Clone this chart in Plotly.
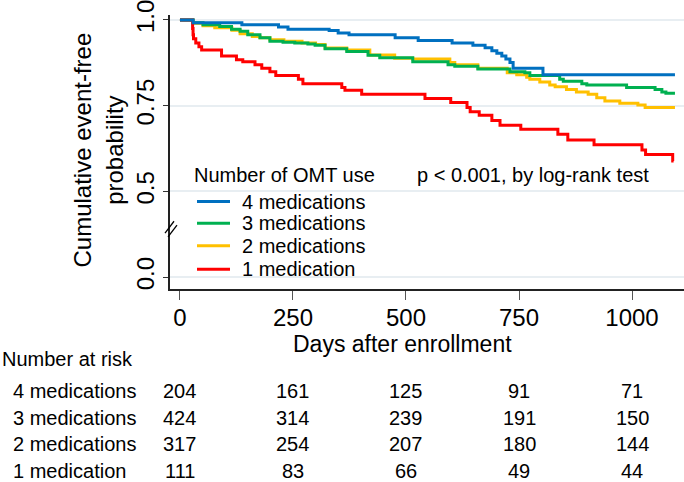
import plotly.graph_objects as go

# ---- Kaplan-Meier step data (days, survival) ----
days_4 = [0, 29, 137, 218, 239, 330, 350, 374, 476, 527, 602, 648, 675, 690, 701, 712, 721, 730, 737, 803, 1095]
surv_4 = [1.0, 0.992, 0.986, 0.979, 0.973, 0.969, 0.962, 0.957, 0.948, 0.940, 0.933, 0.926, 0.919, 0.910, 0.903,
          0.895, 0.886, 0.876, 0.859, 0.840, 0.840]

days_3 = [0, 29, 51, 88, 114, 133, 150, 177, 199, 228, 254, 283, 299, 321, 369, 416, 442, 515, 593, 608,
          659, 730, 763, 774, 840, 848, 889, 900, 988, 1051, 1066, 1075, 1095]
surv_3 = [1.0, 0.992, 0.986, 0.981, 0.973, 0.967, 0.957, 0.948, 0.938, 0.935, 0.933, 0.930, 0.926, 0.916, 0.908,
          0.897, 0.890, 0.878, 0.869, 0.865, 0.857, 0.849, 0.846, 0.838, 0.827, 0.821, 0.814, 0.810, 0.803,
          0.797, 0.790, 0.786, 0.786]

days_2 = [0, 29, 51, 77, 115, 133, 160, 177, 199, 230, 270, 300, 321, 369, 420, 475, 515, 597, 608, 659,
          724, 745, 767, 774, 796, 818, 830, 855, 877, 903, 922, 940, 973, 1013, 1029, 1095]
surv_2 = [1.0, 0.990, 0.983, 0.977, 0.970, 0.960, 0.952, 0.948, 0.942, 0.938, 0.933, 0.928, 0.918, 0.912, 0.898,
          0.888, 0.886, 0.876, 0.869, 0.859, 0.846, 0.840, 0.833, 0.827, 0.819, 0.810, 0.805, 0.797, 0.790,
          0.783, 0.773, 0.764, 0.757, 0.752, 0.745, 0.745]

days_1 = [0, 28, 29, 30, 35, 42, 48, 92, 125, 139, 166, 181, 199, 212, 262, 272, 358, 365, 402, 542,
          599, 635, 642, 662, 690, 708, 754, 836, 858, 916, 1022, 1030, 1090, 1092]
surv_1 = [1.0, 0.975, 0.957, 0.945, 0.933, 0.922, 0.912, 0.895, 0.884, 0.878, 0.869, 0.859, 0.849, 0.838, 0.827,
          0.814, 0.803, 0.795, 0.783, 0.771, 0.759, 0.745, 0.732, 0.722, 0.707, 0.693, 0.681, 0.667, 0.650,
          0.636, 0.621, 0.608, 0.589, 0.589]

group_names = ["4 medications", "3 medications", "2 medications", "1 medication"]
group_colors = ["#0070C0", "#00B050", "#FFC000", "#FF0000"]
legend_title = "Number of OMT use"

# ---- Number at risk table ----
risk_days = [0, 250, 500, 750, 1000]
risk_4 = [204, 161, 125, 91, 71]
risk_3 = [424, 314, 239, 191, 150]
risk_2 = [317, 254, 207, 180, 144]
risk_1 = [111, 83, 66, 49, 44]

# ---- Axis ticks (broken axis: "0.0" drawn at a compressed position) ----
x_ticks = [0, 250, 500, 750, 1000]
y_tickvals = [0.25, 0.5, 0.75, 1.0]
y_ticktext = ["0.0", "0.5", "0.75", "1.0"]

FONT = "Liberation Sans, Arial, Helvetica, sans-serif"

fig = go.Figure()

series = [
    (days_2, surv_2, 2),
    (days_3, surv_3, 1),
    (days_1, surv_1, 3),
    (days_4, surv_4, 0),
]
for d, s, gi in series:
    fig.add_trace(go.Scatter(
        x=d, y=s, mode="lines", line=dict(shape="hv", color=group_colors[gi], width=3),
        name=group_names[gi], showlegend=False,
    ))

W, H = 684, 482
ML, MR, MT, MB = 170, 0, 10, 193
PW = W - ML - MR
PH = H - MT - MB


def px_to_paper_x(px):
    return (px - ML) / PW


def px_to_paper_y(py):
    return (H - MB - py) / PH


annotations = []
shapes = []

# legend background box (covers gridlines, like the reference)
shapes.append(dict(type="rect", xref="paper", yref="paper", layer="between",
                   x0=px_to_paper_x(172), x1=px_to_paper_x(376),
                   y0=px_to_paper_y(283), y1=px_to_paper_y(160),
                   fillcolor="white", line=dict(width=0)))
# legend title + entries
annotations.append(dict(text=legend_title, xref="paper", yref="paper",
                        x=px_to_paper_x(192), y=px_to_paper_y(173), showarrow=False,
                        xanchor="left", yanchor="middle", font=dict(size=20, color="#000")))
legend_rows = [200, 222, 245, 269]
for gi, py in enumerate(legend_rows):
    shapes.append(dict(type="line", xref="paper", yref="paper", layer="above",
                       x0=px_to_paper_x(197), x1=px_to_paper_x(230),
                       y0=px_to_paper_y(py), y1=px_to_paper_y(py),
                       line=dict(color=group_colors[gi], width=3)))
    annotations.append(dict(text=group_names[gi], xref="paper", yref="paper",
                            x=px_to_paper_x(240), y=px_to_paper_y(py), showarrow=False,
                            xanchor="left", yanchor="middle", font=dict(size=20, color="#000")))

# y-axis title
annotations.append(dict(text="Cumulative event-free<br>probability", xref="paper", yref="paper",
                        x=px_to_paper_x(98), y=px_to_paper_y(148), textangle=-90, showarrow=False,
                        xanchor="center", yanchor="middle", font=dict(size=24, color="#000")))
# x-axis title
annotations.append(dict(text="Days after enrollment", xref="paper", yref="paper",
                        x=px_to_paper_x(402), y=px_to_paper_y(345), showarrow=False,
                        xanchor="center", yanchor="middle", font=dict(size=23, color="#000")))
# p value
annotations.append(dict(text="p < 0.001, by log-rank test", xref="paper", yref="paper",
                        x=px_to_paper_x(415), y=px_to_paper_y(173), showarrow=False,
                        xanchor="left", yanchor="middle", font=dict(size=20, color="#000")))
# risk table
annotations.append(dict(text="Number at risk", xref="paper", yref="paper",
                        x=px_to_paper_x(0), y=px_to_paper_y(360), showarrow=False,
                        xanchor="left", yanchor="middle", font=dict(size=20, color="#000")))
row_y = [393, 420, 447, 474]
for name, vals, py in zip(group_names, [risk_4, risk_3, risk_2, risk_1], row_y):
    annotations.append(dict(text=name, xref="paper", yref="paper",
                            x=px_to_paper_x(11), y=px_to_paper_y(py), showarrow=False,
                            xanchor="left", yanchor="middle", font=dict(size=20, color="#000")))
    for d, v in zip(risk_days, vals):
        annotations.append(dict(text=str(v), xref="x", yref="paper", x=d, y=px_to_paper_y(py),
                                showarrow=False, xanchor="center", yanchor="middle",
                                font=dict(size=20, color="#000")))

# axis break marks "//"
for (x0, y0, x1, y1) in [(165, 232, 174, 220), (168, 236, 177, 224)]:
    shapes.append(dict(type="line", xref="paper", yref="paper", layer="above",
                       x0=px_to_paper_x(x0), y0=px_to_paper_y(y0),
                       x1=px_to_paper_x(x1), y1=px_to_paper_y(y1),
                       line=dict(color="#000", width=1.3)))

fig.update_layout(
    width=W, height=H,
    margin=dict(l=ML, r=MR, t=MT, b=MB),
    paper_bgcolor="white", plot_bgcolor="white",
    font=dict(family=FONT, color="#000"),
    annotations=annotations,
    shapes=shapes,
    showlegend=False,
    hovermode=False,
    xaxis=dict(
        range=[-22, 1115], tickvals=x_ticks, ticktext=[str(t) for t in x_ticks],
        showgrid=False, zeroline=False, showline=True, linecolor="#222", linewidth=1.5,
        ticks="outside", ticklen=9, tickcolor="#555", tickwidth=1.3,
        tickfont=dict(size=24), ticklabelstandoff=-3,
    ),
    yaxis=dict(
        range=[0.2157, 1.0143], tickvals=y_tickvals, ticktext=y_ticktext, tickangle=-90,
        showgrid=True, gridcolor="#E8EEF2", gridwidth=1.5, zeroline=False,
        showline=True, linecolor="#222", linewidth=1.5,
        ticks="outside", ticklen=5, tickcolor="#333", tickwidth=1.3,
        tickfont=dict(size=24), ticklabeloverflow="allow",
    ),
)

fig.write_html("out.html", config={"displayModeBar": False},
               post_script="document.body.style.margin='0px';document.body.style.padding='0px';")
